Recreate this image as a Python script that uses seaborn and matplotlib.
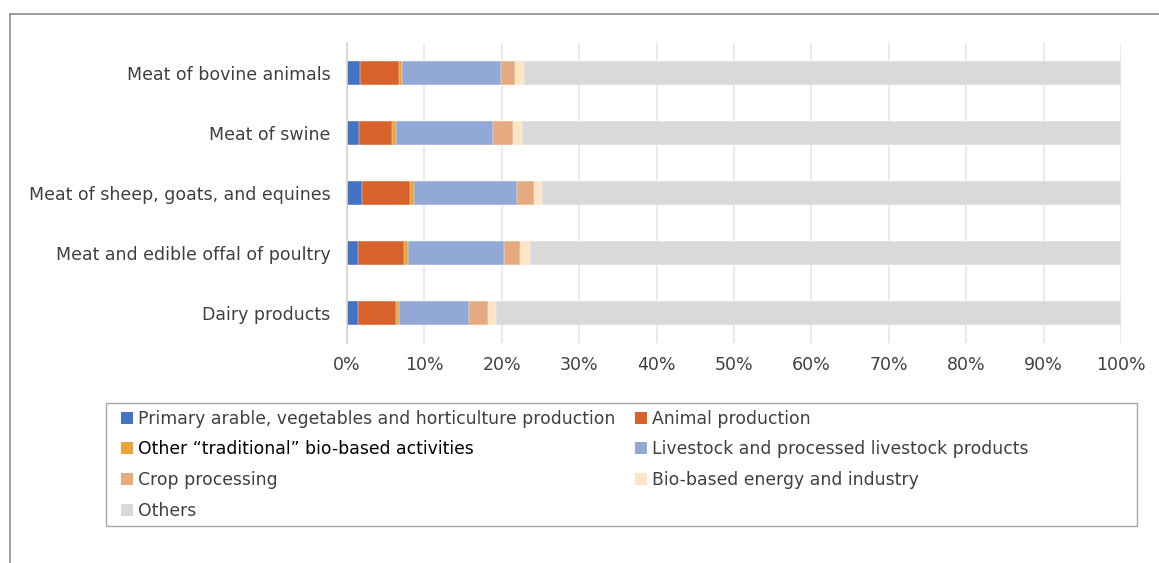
import matplotlib
matplotlib.use("Agg")
import matplotlib.pyplot as plt
from matplotlib.lines import Line2D
from matplotlib.patches import Patch, Rectangle
import numpy as np
import pandas as pd
import seaborn as sns

products = [
    "Meat of bovine animals",
    "Meat of swine",
    "Meat of sheep, goats, and equines",
    "Meat and edible offal of poultry",
    "Dairy products",
]

sectors = [
    "Primary arable, vegetables and horticulture production",
    "Animal production",
    "Other \u201ctraditional\u201d bio-based activities",
    "Livestock and processed livestock products",
    "Crop processing",
    "Bio-based energy and industry",
    "Others",
]

# Shares (%) of each sector per product
primary_arable = [1.70, 1.55, 1.95, 1.45, 1.45]
animal_prod = [5.00, 4.30, 6.20, 5.90, 4.90]
other_traditional = [0.35, 0.45, 0.45, 0.50, 0.35]
livestock = [12.85, 12.60, 13.40, 12.45, 9.10]
crop_processing = [1.80, 2.55, 2.20, 2.05, 2.40]
bio_energy = [1.20, 1.15, 1.05, 1.25, 1.05]
others = [77.10, 77.40, 74.75, 76.40, 80.75]

series = [primary_arable, animal_prod, other_traditional, livestock,
          crop_processing, bio_energy, others]

colors = ["#4472C4", "#D9622B", "#E9A43A", "#92A8D6",
          "#E6AA80", "#FCE4C4", "#D9D9D9"]

sns.set_theme(style="white")
plt.rcParams["font.family"] = ["DejaVu Sans"]

W, H = 1159, 563
fig = plt.figure(figsize=(W / 100, H / 100), dpi=100)
ax = fig.add_axes([347 / W, 1 - 343 / H, (1121 - 347) / W, 300 / H])

df = pd.DataFrame(np.array(series).T, columns=sectors)
df.insert(0, "product", products)
cum = df[sectors].cumsum(axis=1)

# Stacked bars: draw cumulative totals from the outermost segment inward
for sector, color in reversed(list(zip(sectors, colors))):
    sns.barplot(x=cum[sector], y=df["product"], color=color, orient="h",
                width=0.4, ax=ax, edgecolor="white", linewidth=0.3,
                saturation=1)

ax.set_xlim(0, 100)
ax.set_xticks(np.arange(0, 101, 10))
ax.set_xticklabels([f"{v}%" for v in range(0, 101, 10)])
ax.set_xlabel("")
ax.set_ylabel("")
for s in ["top", "right", "bottom"]:
    ax.spines[s].set_visible(False)
ax.spines["left"].set_color("#D4D4D4")
ax.spines["left"].set_linewidth(1.2)
ax.xaxis.grid(True, color="#E6E6E6", linewidth=1.2)
ax.set_axisbelow(True)
ax.tick_params(axis="both", length=0, labelsize=12.5, colors="#404040")
ax.tick_params(axis="x", pad=9)
ax.tick_params(axis="y", pad=12)

# Legend laid out row by row in two columns
order = [0, 2, 4, 6, 1, 3, 5]
handles = [Patch(facecolor=colors[i], edgecolor="none") for i in order]
labels = [sectors[i] for i in order]
leg = fig.legend(handles, labels, loc="upper left", ncol=2,
                 bbox_to_anchor=(113 / W, 1 - 402 / H),
                 frameon=False, fontsize=12.4,
                 handlelength=0.7, handleheight=0.7, handletextpad=0.3,
                 columnspacing=1.15, labelspacing=0.74, borderpad=0.45,
                 borderaxespad=0)
for t in leg.get_texts():
    t.set_color("#404040")
leg.get_texts()[1].set_color("#000000")

fig.add_artist(Rectangle((106 / W, 1 - 526 / H), (1137 - 106) / W, 123 / H,
                         transform=fig.transFigure, fill=False,
                         edgecolor="#A6A6A6", linewidth=1.0))

# Outer chart frame (top and left edges)
fig.add_artist(Line2D([10 / W, 1], [1 - 14 / H, 1 - 14 / H],
                      color="#8C8C8C", linewidth=1.2, transform=fig.transFigure))
fig.add_artist(Line2D([10 / W, 10 / W], [0, 1 - 14 / H],
                      color="#8C8C8C", linewidth=1.2, transform=fig.transFigure))

fig.savefig("out.png", dpi=100, facecolor="white")
